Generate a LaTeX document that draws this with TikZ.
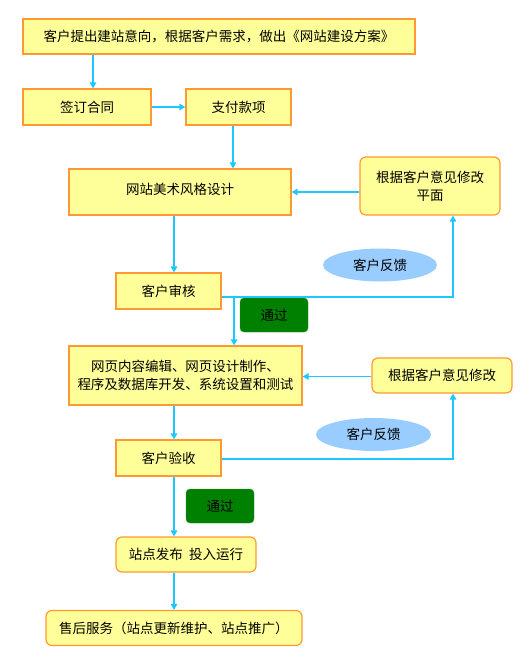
\documentclass[tikz,border=0pt]{standalone}
\usepackage{fontspec}
\setmainfont{Noto Sans CJK SC}
\usetikzlibrary{positioning, calc, arrows.meta, shapes.geometric}
\definecolor{boxfill}{RGB}{255,255,153}
\definecolor{boxline}{RGB}{255,153,51}
\definecolor{flowcyan}{RGB}{30,200,255}
\definecolor{talkblue}{RGB}{153,204,255}
\definecolor{passgreen}{RGB}{0,128,0}

\begin{document}
\begin{tikzpicture}[x=1pt, y=-1pt, >={Triangle[length=6pt,width=6.5pt]},
    step box/.style={draw=boxline, fill=boxfill, line width=1.2pt, inner sep=0pt, align=center,
        font=\fontsize{13.5}{18}\selectfont},
    soft box/.style={step box, rounded corners=6pt},
    talk/.style={ellipse, fill=talkblue, inner sep=0pt, font=\fontsize{13.5}{18}\selectfont},
    pass/.style={draw=passgreen!85!white, fill=passgreen, rounded corners=4pt, inner sep=0pt,
        minimum width=68pt, minimum height=34pt, font=\fontsize{13.5}{18}\selectfont},
    flow/.style={->, draw=flowcyan, line width=1.3pt}]
    \useasboundingbox (0,0) rectangle (521,657);

    % Main column
    \node[step box, minimum width=392pt, minimum height=35pt] (intent) at (219,36.5) {客户提出建站意向，根据客户需求，做出《网站建设方案》};
    \node[step box, minimum width=128pt, minimum height=36pt] (sign) at (87,107) {签订合同};
    \node[step box, minimum width=105pt, minimum height=36pt] (pay) at (238.5,107) {支付款项};
    \node[step box, minimum width=222pt, minimum height=46pt] (art) at (180,192) {\raisebox{7pt}{网站美术风格设计}};
    \node[step box, minimum width=105pt, minimum height=36pt] (review) at (168.5,291) {客户审核};
    \node[step box, minimum width=233pt, minimum height=59pt] (dev) at (185.5,375.5) {网页内容编辑、网页设计制作、\\程序及数据库开发、系统设置和测试};
    \node[step box, minimum width=105pt, minimum height=36pt] (accept) at (168.5,458) {客户验收};
    \node[soft box, minimum width=140pt, minimum height=35pt] (launch) at (186,554.5) {站点发布\ \ 投入运行};
    \node[soft box, minimum width=256pt, minimum height=35pt] (after) at (174,628) {售后服务（站点更新维护、站点推广）};

    % Revision boxes
    \node[soft box, minimum width=140pt, minimum height=58pt] (redraw) at (430,186) {根据客户意见修改\\平面};
    \node[soft box, minimum width=140pt, minimum height=35pt] (revise) at (442,375.5) {根据客户意见修改};

    % Labels on the loops
    \node[talk, minimum width=114pt, minimum height=33pt] (talk1) at (380,265) {客户反馈};
    \node[talk, minimum width=115pt, minimum height=33pt] (talk2) at (373.5,434.5) {客户反馈};
    \node[pass] (pass1) at (274,315) {通过};
    \node[pass] (pass2) at (220,506) {通过};

    % Forward arrows
    \draw[flow] ([xshift=6pt]sign.north |- intent.south) -- ([xshift=6pt]sign.north);
    \draw[flow] (sign.east) -- (pay.west);
    \draw[flow] ([xshift=-5.5pt]pay.south) -- ([xshift=-5.5pt]pay.south |- art.north);
    \draw[flow] ([xshift=5.5pt]review.north |- art.south) -- ([xshift=5.5pt]review.north);
    \coordinate (split) at ($(review.east)+(12.5pt,-6pt)$);
    \draw[flow] (split) -- (split |- dev.north);
    \draw[flow] ([xshift=5.5pt]accept.north |- dev.south) -- ([xshift=5.5pt]accept.north);
    \draw[flow] ([xshift=5.5pt]accept.south) -- ([xshift=5.5pt]accept.south |- launch.north);
    \draw[flow] ([xshift=-12pt]launch.south) -- ([xshift=-12pt]launch.south |- after.north);

    % Feedback loops
    \draw[flow] ([yshift=-6pt]review.east) -| ([xshift=23pt]redraw.south);
    \draw[flow] (art.east -| redraw.west) -- (art.east);
    \draw[flow] ([yshift=-1pt]accept.east) -| ([xshift=11pt]revise.south);
    \draw[flow] ([yshift=-1pt]revise.west) -- ([yshift=-1pt]revise.west -| dev.east);

\end{tikzpicture}
\end{document}
